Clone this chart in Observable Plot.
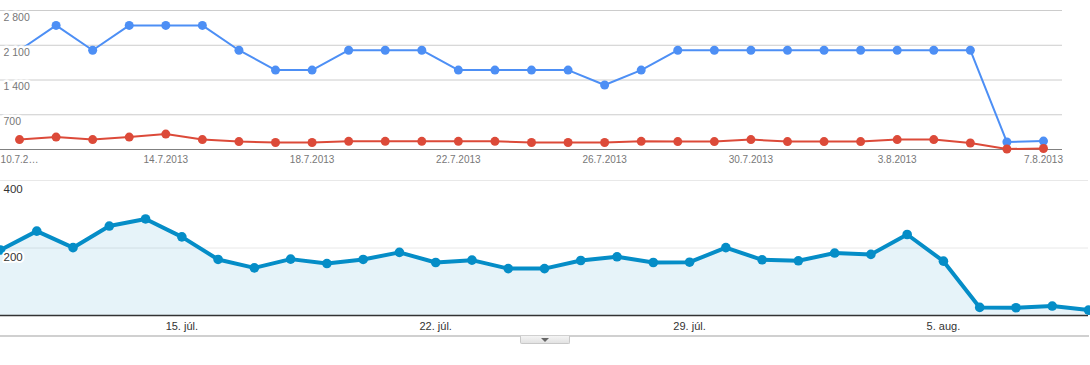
<!DOCTYPE html>
<html>
<head>
<meta charset="utf-8">
<script src="https://cdn.jsdelivr.net/npm/d3@7"></script>
<script src="https://cdn.jsdelivr.net/npm/@observablehq/plot@0.6"></script>
<style>
  html, body { margin: 0; padding: 0; background: #fff; width: 1090px; height: 365px; overflow: hidden; }
  #wrap { position: relative; width: 1090px; height: 365px; font-family: "Liberation Sans", Arial, sans-serif; }
  #top { position: absolute; left: 0; top: 0; }
  #bottom { position: absolute; left: 0; top: 170px; }
  #sep { position: absolute; left: 0; top: 335px; width: 1089px; height: 2px; background: #d0d0d0; }
  #btn { position: absolute; left: 520px; top: 336px; width: 48px; height: 7px; border: 1px solid #c8c8c8; border-top: none;
         background: linear-gradient(#f4f4f4, #e2e2e2); border-radius: 0 0 2px 2px; }
  #btn:after { content: ""; position: absolute; left: 20px; top: 2px; border-left: 4px solid transparent; border-right: 4px solid transparent; border-top: 4px solid #666; }
  svg { overflow: hidden; }
</style>
</head>
<body>
<div id="wrap">
  <div id="top"></div>
  <div id="bottom"></div>
  <div id="sep"></div>
  <div id="btn"></div>
</div>
<script>
// ---- Top chart data (10.7.2013 – 7.8.2013) ----
const topStart = Date.UTC(2013, 6, 10);
const DAY = 86400000;
const blueValues = [2000,2500,2000,2500,2500,2500,2000,1600,1600,2000,2000,2000,1600,1600,1600,1600,1300,1600,2000,2000,2000,2000,2000,2000,2000,2000,2000,150,170];
const redValues  = [200,250,200,250,310,200,160,140,140,165,165,165,165,165,140,140,140,165,160,160,200,160,160,160,200,200,130,10,20];
const topTickDates = ["2013-07-10","2013-07-14","2013-07-18","2013-07-22","2013-07-26","2013-07-30","2013-08-03","2013-08-07"];
const topTickLabels = ["10.7.2…","14.7.2013","18.7.2013","22.7.2013","26.7.2013","30.7.2013","3.8.2013","7.8.2013"];
const topYTicks = [700, 1400, 2100, 2800];

// ---- Bottom chart data (10. júl. – 9. aug.) ----
const bottomValues = [194,250,201,265,286,233,166,141,167,154,166,187,157,164,139,139,163,174,157,158,201,165,162,185,181,240,161,24,23,28,16];
const bottomTickDates = ["2013-07-15","2013-07-22","2013-07-29","2013-08-05"];
const bottomTickLabels = ["15. júl.","22. júl.","29. júl.","5. aug."];
const bottomYTicks = [200, 400];

const fmtSpace = d3.formatLocale({decimal: ",", thousands: " ", grouping: [3], currency: ["", ""]}).format(",");

const topData = blueValues.map((v, i) => ({date: new Date(topStart + i * DAY), blue: v, red: redValues[i]}));
const topTicks = topTickDates.map(s => new Date(s + "T00:00:00Z"));
const topLabelMap = new Map(topTicks.map((d, i) => [+d, topTickLabels[i]]));

const pad = 0.52 * DAY;
const topChart = Plot.plot({
  width: 1090,
  height: 170,
  marginLeft: 0,
  marginRight: 28,
  marginTop: 10,
  marginBottom: 21,
  style: {fontFamily: "'Liberation Sans', Arial, sans-serif", fontSize: "10px", background: "transparent"},
  x: {type: "utc", domain: [new Date(topStart - pad), new Date(topStart + 28 * DAY + pad)]},
  y: {domain: [0, 2800], axis: null},
  marks: [
    Plot.ruleY(topYTicks, {stroke: "#cccccc", strokeWidth: 1}),
    Plot.ruleY([0], {stroke: "#808080", strokeWidth: 1}),
    Plot.line(topData, {x: "date", y: "blue", stroke: "#4d8ff5", strokeWidth: 2}),
    Plot.dot(topData, {x: "date", y: "blue", r: 4.5, fill: "#4d8ff5"}),
    Plot.line(topData, {x: "date", y: "red", stroke: "#dc4a39", strokeWidth: 2}),
    Plot.dot(topData, {x: "date", y: "red", r: 4.5, fill: "#dc4a39"}),
    Plot.text(topYTicks, {y: d => d, text: d => fmtSpace(d), frameAnchor: "left", textAnchor: "start", lineAnchor: "middle",
      dx: 3, dy: 7, fill: "#777", stroke: "white", strokeWidth: 5, fontSize: 10.5}),
    Plot.axisX({ticks: topTicks, tickSize: 0, tickPadding: 6, tickFormat: d => topLabelMap.get(+d), color: "#777", fontSize: 10, label: null})
  ]
});
document.getElementById("top").appendChild(topChart);

const bottomData = bottomValues.map((v, i) => ({date: new Date(topStart + i * DAY), value: v}));
const bTicks = bottomTickDates.map(s => new Date(s + "T00:00:00Z"));
const bLabelMap = new Map(bTicks.map((d, i) => [+d, bottomTickLabels[i]]));

const bottomChart = Plot.plot({
  width: 1090,
  height: 165,
  marginLeft: 0,
  marginRight: 2,
  marginTop: 10,
  marginBottom: 20,
  style: {fontFamily: "'Liberation Sans', Arial, sans-serif", fontSize: "11px", background: "transparent"},
  x: {type: "utc", domain: [new Date(topStart), new Date(topStart + 30 * DAY)]},
  y: {domain: [0, 400], axis: null},
  marks: [
    Plot.ruleY(bottomYTicks, {stroke: "#e8e8e8", strokeWidth: 1}),
    Plot.areaY(bottomData, {x: "date", y: "value", fill: "#058dc7", fillOpacity: 0.1}),
    Plot.ruleY([0], {stroke: "#333", strokeWidth: 1.5}),
    Plot.line(bottomData, {x: "date", y: "value", stroke: "#058dc7", strokeWidth: 4, strokeLinejoin: "round"}),
    Plot.dot(bottomData, {x: "date", y: "value", r: 4.8, fill: "#058dc7"}),
    Plot.text(bottomYTicks, {y: d => d, text: d => String(d), frameAnchor: "left", textAnchor: "start", lineAnchor: "middle",
      dx: 3, dy: 9, fill: "#333", stroke: "white", strokeWidth: 4, fontSize: 11.5}),
    Plot.axisX({ticks: bTicks, tickSize: 0, tickPadding: 7, tickFormat: d => bLabelMap.get(+d), color: "#333", fontSize: 11, label: null})
  ]
});
document.getElementById("bottom").appendChild(bottomChart);
</script>
</body>
</html>
